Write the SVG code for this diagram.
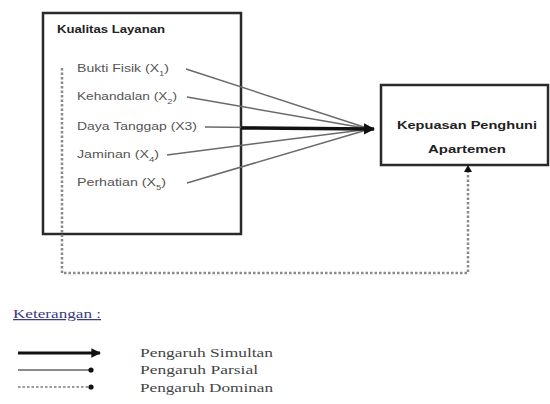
<svg xmlns="http://www.w3.org/2000/svg" width="550" height="404" viewBox="0 0 550 404">
<defs>
<style>
.box{fill:#fff;stroke:#2a2a2a;stroke-width:2.5}
.t{font-family:"Liberation Sans",Arial,sans-serif;fill:#333}
.b{font-weight:bold;font-size:11px;fill:#222}
.item{font-size:10.5px;fill:#555}
.thin{stroke:#6a6a6a;stroke-width:1.5;fill:none}
.thick{stroke:#111;stroke-width:3.5;fill:none}
.dot{stroke:#8a8a8a;stroke-width:2.5;stroke-dasharray:2.5 2;fill:none}
.leg{font-family:"Liberation Serif","Times New Roman",serif;font-size:12.5px;fill:#444}
</style>
<marker id="ah" viewBox="0 0 10 10" refX="9" refY="5" markerWidth="3.2" markerHeight="3.2" orient="auto" markerUnits="strokeWidth">
<path d="M0,0 L10,5 L0,10 z" fill="#111"/>
</marker>
</defs>
<rect width="550" height="404" fill="#fff"/>

<g id="kualitas-layanan">
<rect class="box" x="43" y="13" width="198" height="221"/>
<text class="t b" x="57" y="33" textLength="108" lengthAdjust="spacingAndGlyphs">Kualitas Layanan</text>
<text class="t item" x="77" y="72" textLength="92" lengthAdjust="spacingAndGlyphs">Bukti Fisik (X<tspan font-size="7" baseline-shift="sub">1</tspan>)</text>
<text class="t item" x="77" y="100" textLength="100" lengthAdjust="spacingAndGlyphs">Kehandalan (X<tspan font-size="7" baseline-shift="sub">2</tspan>)</text>
<text class="t item" x="77" y="130" textLength="120" lengthAdjust="spacingAndGlyphs">Daya Tanggap (X3)</text>
<text class="t item" x="77" y="158" textLength="82" lengthAdjust="spacingAndGlyphs">Jaminan (X<tspan font-size="7" baseline-shift="sub">4</tspan>)</text>
<text class="t item" x="77" y="186" textLength="89" lengthAdjust="spacingAndGlyphs">Perhatian (X<tspan font-size="7" baseline-shift="sub">5</tspan>)</text>
</g>

<g id="kepuasan-penghuni">
<rect class="box" x="381" y="85" width="167" height="80"/>
<text class="t b" x="467" y="129" text-anchor="middle" textLength="140" lengthAdjust="spacingAndGlyphs">Kepuasan Penghuni</text>
<text class="t b" x="467" y="153" text-anchor="middle" textLength="78" lengthAdjust="spacingAndGlyphs">Apartemen</text>
</g>

<g id="connectors">
<line class="thin" x1="186" y1="69" x2="370" y2="129"/>
<line class="thin" x1="187" y1="97" x2="370" y2="129"/>
<line class="thin" x1="205" y1="127" x2="370" y2="129"/>
<line class="thin" x1="167" y1="155" x2="370" y2="129"/>
<line class="thin" x1="187" y1="183" x2="370" y2="129"/>
<line class="thick" x1="241" y1="128" x2="374" y2="129" marker-end="url(#ah)"/>
<polyline class="dot" points="62,68 62,273 468,273 468,170"/>
<path d="M464,172 L468,165 L472,172 z" fill="#111"/>
</g>

<g id="legend">
<text x="13" y="318" font-family="'Liberation Serif','Times New Roman',serif" font-size="12.5" fill="#3b3b80" text-decoration="underline" textLength="88" lengthAdjust="spacingAndGlyphs">Keterangan :</text>
<line x1="18" y1="353" x2="100" y2="353" stroke="#111" stroke-width="3" marker-end="url(#ah)"/>
<line x1="18" y1="370" x2="90" y2="370" stroke="#8a8a8a" stroke-width="2"/>
<circle cx="91" cy="370" r="2.6" fill="#111"/>
<line x1="18" y1="387" x2="88" y2="387" stroke="#9a9a9a" stroke-width="2.2" stroke-dasharray="2.5 2"/>
<circle cx="91" cy="387" r="2.6" fill="#111"/>
<text class="leg" x="140" y="357" textLength="133" lengthAdjust="spacingAndGlyphs">Pengaruh Simultan</text>
<text class="leg" x="140" y="374" textLength="118" lengthAdjust="spacingAndGlyphs">Pengaruh Parsial</text>
<text class="leg" x="140" y="392" textLength="133" lengthAdjust="spacingAndGlyphs">Pengaruh Dominan</text>
</g>
</svg>
